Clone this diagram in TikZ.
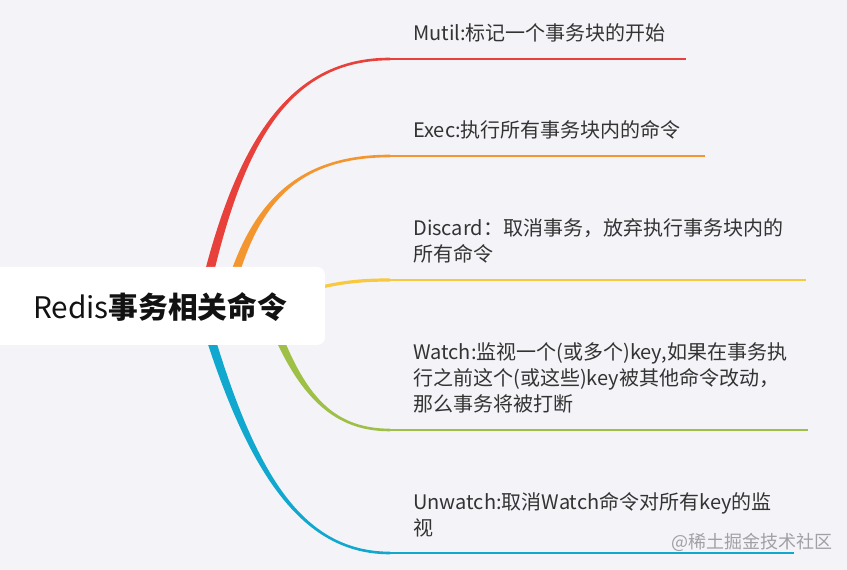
\documentclass[tikz,border=0pt]{standalone}
\usepackage{fontspec}
\setmainfont{Noto Sans CJK SC}
\usetikzlibrary{calc}
\definecolor{bg}{RGB}{244,244,248}
\definecolor{cred}{RGB}{232,64,58}
\definecolor{corange}{RGB}{243,150,48}
\definecolor{cyellow}{RGB}{248,200,62}
\definecolor{cgreen}{RGB}{158,192,70}
\definecolor{cblue}{RGB}{16,168,206}
\definecolor{txt}{RGB}{51,51,51}
\definecolor{wm}{RGB}{160,160,165}
\newcommand\mybranch[6]{%
  \fill[#1] ($(#2)+(-4.8,0)$) .. controls ($(#3)+(-3.6,0)$) and ($(#4)+(0,-1.5*#6)$) .. ($(#5)+(0,-1.3*#6)$)
    -- ($(#5)+(0,1.3*#6)$) .. controls ($(#4)+(0,1.5*#6)$) and ($(#3)+(3.6,0)$) .. ($(#2)+(4.8,0)$) -- cycle;}
\tikzset{
  leaf/.style={anchor=west, inner sep=0pt, align=left, text=txt,
    font=\fontsize{15pt}{19.5pt}\selectfont},
  under/.style={line width=1.9pt},
}
\begin{document}
\begin{tikzpicture}[x=0.75pt,y=-0.75pt]
\useasboundingbox (0,0) rectangle (847,570);
\fill[bg] (0,0) rectangle (847,570);
% coordinates
\coordinate (s1) at (205,290); \coordinate (a1) at (240,140); \coordinate (b1) at (290,59); \coordinate (e1) at (390,59); \coordinate (u1) at (686,59);
\coordinate (s2) at (230,290); \coordinate (a2) at (255,200); \coordinate (b2) at (300,156); \coordinate (e2) at (390,156); \coordinate (u2) at (705,156);
\coordinate (s3) at (305,291); \coordinate (e3) at (390,280); \coordinate (u3) at (806,280);
\coordinate (s4) at (268,310); \coordinate (a4) at (298,392); \coordinate (b4) at (330,430); \coordinate (e4) at (390,430); \coordinate (u4) at (808,430);
\coordinate (s5) at (205,320); \coordinate (a5) at (250,470); \coordinate (b5) at (300,553); \coordinate (e5) at (390,553); \coordinate (u5) at (794,553);
% branches
\mybranch{cred}{s1}{a1}{b1}{e1}{1}
\draw[cred,under] (e1) -- (u1);
\mybranch{corange}{s2}{a2}{b2}{e2}{1}
\draw[corange,under] (e2) -- (u2);
\draw[cyellow,line width=2.4pt] (s3) .. controls (340,282) and (360,280) .. (e3);
\draw[cyellow,under] (e3) -- (u3);
\mybranch{cgreen}{s4}{a4}{b4}{e4}{-1}
\draw[cgreen,under] (e4) -- (u4);
\mybranch{cblue}{s5}{a5}{b5}{e5}{-1}
\draw[cblue,under] (e5) -- (u5);
% root
\fill[white,rounded corners=6pt] (-12,267) rectangle (325,345);
\node[inner sep=0pt, text=black!93, font=\fontsize{22.3pt}{26pt}\selectfont] (root) at (160,307) {Redis{\bfseries 事务相关命令}};
% leaves
\node[leaf] (l1) at (413,33) {Mutil:标记一个事务块的开始};
\node[leaf] (l2) at (413,130) {Exec:执行所有事务块内的命令};
\node[leaf] (l3) at (413,241) {Discard：取消事务，放弃执行事务块内的\\所有命令};
\node[leaf] (l4) at (413,377.5) {Watch:监视一个(或多个)key,如果在事务执\\行之前这个(或这些)key被其他命令改动，\\那么事务将被打断};
\node[leaf] (l5) at (413,515) {Unwatch:取消Watch命令对所有key的监\\视};
\node[anchor=west, inner sep=0pt, text=wm, font=\fontsize{13.5pt}{16pt}\selectfont] (wmk) at (671,542) {@稀土掘金技术社区};
\end{tikzpicture}
\end{document}
